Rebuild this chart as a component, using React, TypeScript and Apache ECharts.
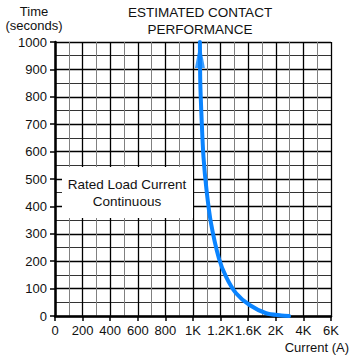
import React, { useEffect, useRef } from "react";
import * as echarts from "echarts";

const tickAmps = [0, 200, 400, 600, 800, 1000, 1200, 1600, 2000, 4000, 6000];
const tickLabels = ["0", "200", "400", "600", "800", "1K", "1.2K", "1.6K", "2K", "4K", "6K"];
const yTicks = [0, 100, 200, 300, 400, 500, 600, 700, 800, 900, 1000];

// curve: current (A), time (s)
const curveAmps = [1050, 1053, 1064, 1076, 1098, 1130, 1188, 1280, 1424, 1620, 1860, 2400, 2960];
const curveSecs = [1000, 850, 700, 580, 460, 340, 210, 143, 83, 40, 10, 2, 0];

const titleText = "ESTIMATED CONTACT\nPERFORMANCE";
const yName = "Time\n(seconds)";
const xName = "Current (A)";
const boxText = "Rated Load Current\nContinuous";

// piecewise mapping of amps onto the evenly spaced tick positions
function ampsToPos(a: number): number {
  for (let i = 0; i < tickAmps.length - 1; i++) {
    if (a <= tickAmps[i + 1]) {
      return i + (a - tickAmps[i]) / (tickAmps[i + 1] - tickAmps[i]);
    }
  }
  return tickAmps.length - 1;
}

const FONT = "Liberation Sans, Arial, sans-serif";

export default function App() {
  const ref = useRef<HTMLDivElement>(null);
  useEffect(() => {
    if (!ref.current) return;
    const chart = echarts.init(ref.current, undefined, { renderer: "svg" });
    const data = curveAmps.map((a, i) => [ampsToPos(a), curveSecs[i]]);
    chart.setOption({
      animation: false,
      backgroundColor: "#fff",
      grid: { left: 55, right: 29, top: 42, bottom: 44 },
      xAxis: {
        type: "value",
        min: 0,
        max: tickAmps.length - 1,
        interval: 1,
        axisLine: { show: true, onZero: false, lineStyle: { color: "#000", width: 2.5 } },
        axisTick: { show: true, length: 5, lineStyle: { color: "#000", width: 1.5 } },
        axisLabel: {
          margin: 8,
          color: "#111",
          fontSize: 13,
          fontFamily: FONT,
          formatter: (v: number) => tickLabels[Math.round(v)] ?? "",
        },
        splitLine: { show: true, lineStyle: { color: "#000", width: 1.3 } },
        minorTick: { show: false, splitNumber: 2 },
        minorSplitLine: { show: true, lineStyle: { color: "#808080", width: 1 } },
      },
      yAxis: {
        type: "value",
        min: 0,
        max: 1000,
        interval: 100,
        axisLine: { show: true, lineStyle: { color: "#000", width: 2.5 } },
        axisTick: { show: true, length: 5, lineStyle: { color: "#000", width: 1.5 } },
        axisLabel: {
          margin: 8,
          color: "#111",
          fontSize: 13,
          fontFamily: FONT,
          formatter: (v: number) => (yTicks.includes(v) ? String(v) : ""),
        },
        splitLine: { show: true, lineStyle: { color: "#000", width: 1.3 } },
        minorTick: { show: false, splitNumber: 2 },
        minorSplitLine: { show: true, lineStyle: { color: "#333", width: 1 } },
      },
      graphic: [
        {
          type: "rect",
          shape: { x: 62, y: 167, width: 131, height: 51 },
          style: { fill: "#fff" },
          z: 10,
        },
        {
          type: "text",
          x: 127,
          y: 193,
          z: 11,
          style: {
            text: boxText,
            fill: "#111",
            font: `13.5px ${FONT}`,
            align: "center",
            verticalAlign: "middle",
            lineHeight: 17,
          },
        },
        {
          type: "text",
          x: 200,
          y: 21,
          style: {
            text: titleText,
            fill: "#111",
            font: `13.5px ${FONT}`,
            align: "center",
            verticalAlign: "middle",
            lineHeight: 17,
          },
        },
        {
          type: "text",
          x: 34,
          y: 18,
          style: {
            text: yName,
            fill: "#111",
            font: `13px ${FONT}`,
            align: "center",
            verticalAlign: "middle",
            lineHeight: 14,
          },
        },
        {
          type: "text",
          x: 349,
          y: 347,
          style: {
            text: xName,
            fill: "#111",
            font: `13px ${FONT}`,
            align: "right",
            verticalAlign: "middle",
          },
        },
      ],
      series: [
        {
          type: "line",
          data,
          smooth: 0.3,
          showSymbol: false,
          symbol: "none",
          lineStyle: { color: "#0a84ff", width: 4, cap: "round" },
          z: 5,
        },
        {
          type: "scatter",
          data: [data[0]],
          symbol: "triangle",
          symbolSize: [10, 26],
          symbolOffset: [0, "50%"],
          itemStyle: { color: "#0a84ff" },
          z: 6,
        },
      ],
    });
    return () => chart.dispose();
  }, []);
  return (
    <div
      ref={ref}
      style={{ position: "fixed", left: 0, top: 0, width: 360, height: 360 }}
    />
  );
}
